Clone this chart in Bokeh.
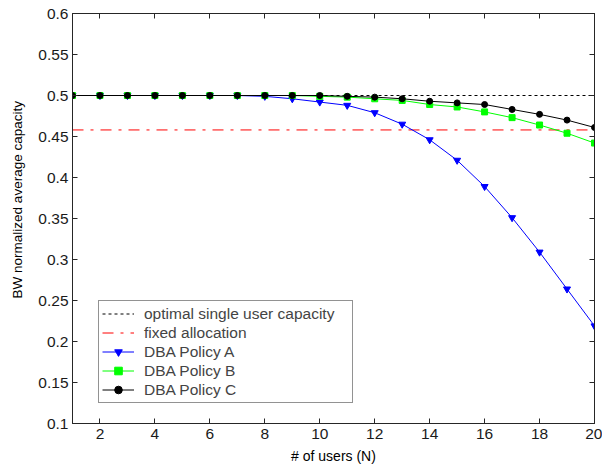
from bokeh.plotting import figure
from bokeh.models import Range1d, LinearAxis, FixedTicker, Legend
from bokeh.embed import file_html
from bokeh.resources import INLINE

# ---- data ----
users = list(range(1, 21))
opt_x = [1, 20]
opt_y = [0.5, 0.5]
fixed_x = [1, 20]
fixed_y = [0.458, 0.458]
policy_a = [0.5, 0.5, 0.5, 0.5, 0.5, 0.5, 0.5, 0.499, 0.496, 0.492,
            0.488, 0.479, 0.465, 0.446, 0.421, 0.389, 0.351, 0.309, 0.264, 0.219]
policy_b = [0.5, 0.5, 0.5, 0.5, 0.5, 0.5, 0.5, 0.5, 0.5, 0.499,
            0.498, 0.496, 0.494, 0.489, 0.486, 0.480, 0.473, 0.464, 0.454, 0.442]
policy_c = [0.5, 0.5, 0.5, 0.5, 0.5, 0.5, 0.5, 0.5, 0.5, 0.5,
            0.499, 0.498, 0.496, 0.493, 0.491, 0.489, 0.483, 0.477, 0.470, 0.461]
x_ticks = [2, 4, 6, 8, 10, 12, 14, 16, 18, 20]
y_ticks = [0.1, 0.15, 0.2, 0.25, 0.3, 0.35, 0.4, 0.45, 0.5, 0.55, 0.6]
y_tick_labels = ["0.1", "0.15", "0.2", "0.25", "0.3", "0.35", "0.4", "0.45", "0.5", "0.55", "0.6"]

FONT = "Liberation Sans"
AX = "#262626"

p = figure(width=602, height=470, output_backend="svg", toolbar_location=None,
           x_range=Range1d(1, 20), y_range=Range1d(0.1, 0.6),
           min_border_left=72, min_border_right=8, min_border_top=13, min_border_bottom=47)
p.background_fill_color = "white"
p.border_fill_color = "white"
p.grid.visible = False
p.outline_line_color = AX
p.outline_line_width = 1

def style_axis(ax):
    ax.axis_line_color = AX
    ax.major_tick_line_color = AX
    ax.major_tick_in = 5
    ax.major_tick_out = 0
    ax.minor_tick_line_color = None
    ax.major_label_text_font = FONT
    ax.major_label_text_color = "#1a1a1a"
    ax.major_label_text_font_size = "15.5px"
    ax.axis_label_text_font = FONT
    ax.axis_label_text_font_style = "normal"
    ax.axis_label_text_color = "black"

p.xaxis.ticker = FixedTicker(ticks=x_ticks)
p.yaxis.ticker = FixedTicker(ticks=y_ticks)
p.yaxis.major_label_overrides = {t: l for t, l in zip(y_ticks, y_tick_labels)}
style_axis(p.xaxis[0])
style_axis(p.yaxis[0])
p.xaxis.major_label_standoff = 5
p.yaxis.major_label_standoff = 4
p.xaxis.axis_label = "# of users (N)"
p.xaxis.axis_label_text_font_size = "14px"
p.xaxis.axis_label_standoff = 6
# leading non-breaking spaces shift the rotated title upward, as in the reference
p.yaxis.axis_label = "\u00a0" * 10 + "BW normalized average capacity"
p.yaxis.axis_label_text_font_size = "13.5px"
p.yaxis.axis_label_standoff = 10

top = LinearAxis(ticker=FixedTicker(ticks=x_ticks))
style_axis(top)
top.major_label_overrides = {t: "" for t in x_ticks}
top.major_label_standoff = 0
p.add_layout(top, "above")
right = LinearAxis(ticker=FixedTicker(ticks=y_ticks))
style_axis(right)
right.major_label_overrides = {t: "" for t in y_ticks}
right.major_label_standoff = 0
p.add_layout(right, "right")

items = []
r_opt = p.line(opt_x, opt_y, line_color="black", line_width=1, line_dash="3 3")
items.append(("optimal single user capacity", [r_opt]))
r_fix = p.line(fixed_x, fixed_y, line_color="#ff0000", line_width=1, line_dash="11 7 3 7")
items.append(("fixed allocation", [r_fix]))
la = p.line(users, policy_a, line_color="#0000ff", line_width=1)
sa = p.scatter(users, policy_a, marker="inverted_triangle", size=7,
               fill_color="#0000ff", line_color="#0000ff")
items.append(("DBA Policy A", [la, sa]))
lb = p.line(users, policy_b, line_color="#00ff00", line_width=1)
sb = p.scatter(users, policy_b, marker="square", size=6,
               fill_color="#00ff00", line_color="#00ff00")
items.append(("DBA Policy B", [lb, sb]))
lc = p.line(users, policy_c, line_color="black", line_width=1)
sc = p.scatter(users, policy_c, marker="circle", size=6,
               fill_color="black", line_color="black")
items.append(("DBA Policy C", [lc, sc]))

legend = Legend(items=items, location=(26, 20), spacing=0, padding=3, margin=0,
                glyph_width=32, glyph_height=19, label_height=19, label_width=205,
                label_standoff=10, label_text_font=FONT, label_text_font_size="15.5px",
                border_line_color=AX, border_line_width=1, background_fill_alpha=1)
p.add_layout(legend, "center")

open("out.html", "w").write(file_html(p, INLINE))
